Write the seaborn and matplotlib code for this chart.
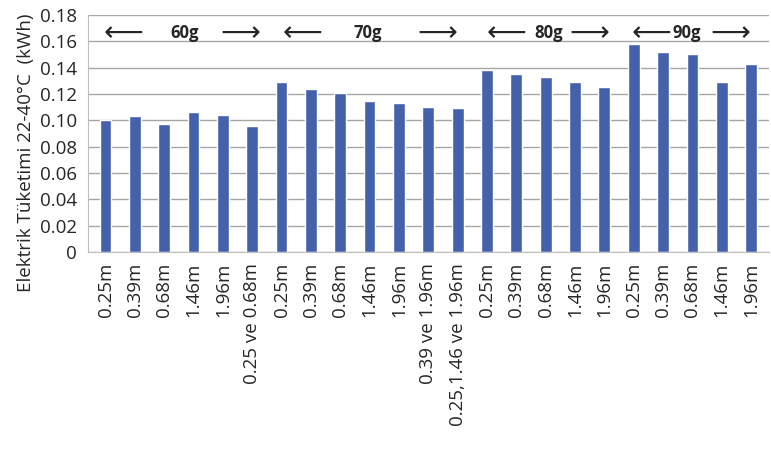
"""
Electric consumption bar chart (22-40 C) grouped by 60g/70g/80g/90g.
Saves out.png.
"""
import matplotlib
matplotlib.use("Agg")
import matplotlib.pyplot as plt
import seaborn as sns

# --- data ------------------------------------------------------------
labels = [
    "0.25m", "0.39m", "0.68m", "1.46m", "1.96m", "0.25 ve 0.68m",
    "0.25m", "0.39m", "0.68m", "1.46m", "1.96m", "0.39 ve 1.96m", "0.25,1.46 ve 1.96m",
    "0.25m", "0.39m", "0.68m", "1.46m", "1.96m",
    "0.25m", "0.39m", "0.68m", "1.46m", "1.96m",
]
values = [
    0.100, 0.103, 0.097, 0.106, 0.104, 0.096,
    0.129, 0.124, 0.121, 0.115, 0.113, 0.110, 0.109,
    0.138, 0.135, 0.133, 0.129, 0.125,
    0.158, 0.152, 0.150, 0.129, 0.143,
]
groups = ["60g", "70g", "80g", "90g"]
# (left arrow, label, right arrow) positions in bar-index units
group_pos = [(0.6, 2.7, 4.6), (6.7, 8.95, 11.3), (13.65, 15.1, 16.5), (18.6, 19.8, 21.3)]

sns.set_style("white")
plt.rcParams["font.family"] = ["Open Sans", "DejaVu Sans"]

fig = plt.figure(figsize=(7.71, 4.53), dpi=100)
ax = fig.add_axes([0.114, 0.4437, 0.883, 0.5233])

x = list(range(len(values)))
sns.barplot(x=x, y=values, color="#4661AB", saturation=1, width=0.4, ax=ax, zorder=3)

ax.set_ylim(0, 0.18)
ax.set_xlim(-0.6, len(values) - 0.4)
yt = [i * 0.02 for i in range(10)]
ax.set_yticks(yt)
ax.set_yticklabels(["0"] + [f"{v:.2f}" for v in yt[1:]], fontsize=13.5)
ax.set_xticks(x)
ax.set_xticklabels(labels, rotation=90, fontsize=13.5, va="top", ha="center")
ax.tick_params(axis="x", length=0, pad=8)
ax.tick_params(axis="y", length=0, pad=8)
ax.yaxis.grid(True, color="#a6a6a6", linewidth=1, zorder=0)

for side in ["top", "right"]:
    ax.spines[side].set_visible(False)
for side in ["left", "bottom"]:
    ax.spines[side].set_color("#bfbfbf")

ax.set_ylabel("Elektrik Tüketimi 22-40°C  (kWh)", fontsize=13.5)
ax.yaxis.set_label_coords(-0.078, 0.42)

# group annotations with arrows
for g, (l, c, r) in zip(groups, group_pos):
    ax.text(l, 0.166, "⟵", ha="center", va="center", fontsize=20,
            family=["DejaVu Sans"])
    ax.text(c, 0.166, g, ha="center", va="center", fontsize=12, fontweight="bold")
    ax.text(r, 0.166, "⟶", ha="center", va="center", fontsize=20,
            family=["DejaVu Sans"])

fig.savefig("out.png", dpi=100)
